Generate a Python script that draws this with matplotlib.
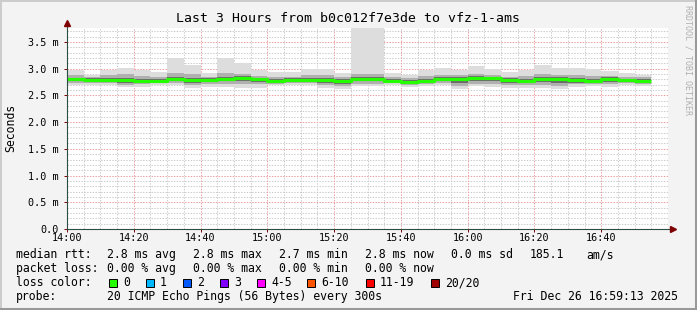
import numpy as np
import matplotlib
matplotlib.use("Agg")
import matplotlib.pyplot as plt
from matplotlib.lines import Line2D
from matplotlib.patches import Rectangle

# 5 minute steps starting 14:00 (minutes after 14:00)
step_min = [0, 5, 10, 15, 20, 25, 30, 35, 40, 45, 50, 55,
            60, 65, 70, 75, 80, 85, 90, 95, 100, 105, 110, 115,
            120, 125, 130, 135, 140, 145, 150, 155, 160, 165, 170]

# values in ms
median = [2.80, 2.79, 2.79, 2.79, 2.77, 2.77, 2.81, 2.79, 2.79, 2.81, 2.83, 2.80,
          2.77, 2.79, 2.79, 2.79, 2.77, 2.80, 2.81, 2.77, 2.75, 2.77, 2.81, 2.80,
          2.82, 2.82, 2.79, 2.77, 2.81, 2.81, 2.79, 2.77, 2.80, 2.78, 2.77]
ping_max = [2.97, 2.89, 2.97, 3.01, 2.97, 2.93, 3.19, 3.07, 2.92, 3.19, 3.11, 2.97,
            2.93, 2.93, 3.00, 3.00, 2.91, 3.80, 3.80, 2.91, 2.88, 2.97, 3.01, 2.97,
            3.05, 3.00, 2.93, 2.97, 3.06, 3.01, 3.01, 3.00, 2.96, 2.91, 2.89]
ping_min = [2.70, 2.70, 2.70, 2.66, 2.66, 2.70, 2.69, 2.64, 2.66, 2.66, 2.64, 2.64,
            2.69, 2.70, 2.69, 2.64, 2.61, 2.67, 2.67, 2.70, 2.66, 2.67, 2.69, 2.61,
            2.67, 2.66, 2.64, 2.64, 2.64, 2.61, 2.66, 2.67, 2.66, 2.69, 2.67]
mid_hi = [2.88, 2.85, 2.88, 2.90, 2.86, 2.84, 2.92, 2.90, 2.85, 2.92, 2.90, 2.87,
          2.85, 2.85, 2.88, 2.88, 2.84, 2.90, 2.90, 2.84, 2.82, 2.86, 2.89, 2.88,
          2.90, 2.89, 2.85, 2.86, 2.90, 2.89, 2.88, 2.86, 2.87, 2.85, 2.84]
mid_lo = [2.74, 2.73, 2.74, 2.70, 2.71, 2.73, 2.74, 2.70, 2.72, 2.72, 2.71, 2.71,
          2.72, 2.74, 2.73, 2.70, 2.67, 2.72, 2.72, 2.73, 2.70, 2.71, 2.73, 2.68,
          2.72, 2.71, 2.70, 2.70, 2.70, 2.68, 2.71, 2.72, 2.71, 2.73, 2.72]
core_hi = [2.83, 2.82, 2.83, 2.83, 2.80, 2.80, 2.85, 2.83, 2.82, 2.85, 2.86, 2.83,
           2.80, 2.82, 2.83, 2.83, 2.80, 2.84, 2.85, 2.80, 2.78, 2.81, 2.85, 2.84,
           2.86, 2.85, 2.82, 2.81, 2.85, 2.84, 2.83, 2.81, 2.84, 2.81, 2.80]
core_lo = [2.76, 2.75, 2.76, 2.74, 2.74, 2.75, 2.77, 2.74, 2.75, 2.76, 2.77, 2.75,
           2.74, 2.76, 2.75, 2.74, 2.72, 2.76, 2.76, 2.74, 2.72, 2.73, 2.76, 2.73,
           2.77, 2.76, 2.74, 2.73, 2.75, 2.74, 2.74, 2.74, 2.75, 2.75, 2.74]

x_ticks = [0, 20, 40, 60, 80, 100, 120, 140, 160]
x_labels = ["14:00", "14:20", "14:40", "15:00", "15:20", "15:40", "16:00", "16:20", "16:40"]
y_ticks = [0.0, 0.5, 1.0, 1.5, 2.0, 2.5, 3.0, 3.5]
y_labels = ["0.0", "0.5 m", "1.0 m", "1.5 m", "2.0 m", "2.5 m", "3.0 m", "3.5 m"]

loss_names = ["0", "1", "2", "3", "4-5", "6-10", "11-19", "20/20"]
loss_colors = ["#26ff00", "#00b8ff", "#0059ff", "#7e00ff", "#ff00ff", "#ff5500", "#ff0000", "#a10000"]

MONO = "DejaVu Sans Mono"
W, H = 697, 310

fig = plt.figure(figsize=(W / 100, H / 100), dpi=100)
fig.patch.set_facecolor("#f3f3f3")


def fx(x):
    return x / W


def fy(y):
    return 1 - y / H


# frame shading
fig.add_artist(Line2D([0, 1], [fy(0.5), fy(0.5)], color="#cbcbcb", lw=1.4))
fig.add_artist(Line2D([fx(0.5), fx(0.5)], [0, 1], color="#cbcbcb", lw=1.4))
fig.add_artist(Line2D([0, 1], [fy(309), fy(309)], color="#999999", lw=2.2))
fig.add_artist(Line2D([fx(696), fx(696)], [0, 1], color="#999999", lw=2.2))

ax = fig.add_axes([fx(67), fy(229), 601 / W, 201 / H])
ax.set_facecolor("white")
ax.set_xlim(0, 180)
ax.set_ylim(0, 3.76)
for s in ax.spines.values():
    s.set_visible(False)

# grid
for m in range(0, 181, 5):
    if m % 20:
        ax.axvline(m, color="#cccccc", lw=0.72, ls=(0, (1.4, 1.4)), zorder=0)
for v in np.arange(0.1, 3.76, 0.1):
    if round(v * 10) % 5:
        ax.axhline(v, color="#cccccc", lw=0.72, ls=(0, (1.4, 1.4)), zorder=0)
for m in x_ticks[1:] + [180]:
    ax.axvline(m, color="#eea0a0", lw=0.72, ls=(0, (1.4, 1.4)), zorder=0)
for v in y_ticks[1:]:
    ax.axhline(v, color="#eea0a0", lw=0.72, ls=(0, (1.4, 1.4)), zorder=0)

# smoke
lo = np.array(ping_min)
hi = np.array(ping_max)
ax.bar(step_min, hi - lo, bottom=lo, width=5, align="edge", color="#dddddd", lw=0, zorder=1)
ax.bar(step_min, np.array(mid_hi) - np.array(mid_lo), bottom=mid_lo, width=5, align="edge",
       color="#b0b0b0", lw=0, zorder=2)
ax.bar(step_min, np.array(core_hi) - np.array(core_lo), bottom=core_lo, width=5, align="edge",
       color="#6a6a6a", lw=0, zorder=3)

# median line
sx = list(step_min) + [step_min[-1] + 5]
sy = list(median) + [median[-1]]
ax.step(sx, sy, where="post", color=loss_colors[0], lw=2.3, zorder=4, solid_capstyle="butt")

# axes lines & arrows
ax.plot([0, 0], [0, 3.76 + 6 / 53.5], color="#2c4d43", lw=0.8, clip_on=False, zorder=5)
ax.plot([0, 180 + 5 * 0.3], [0, 0], color="#2c4d43", lw=0.8, clip_on=False, zorder=5)
ax.plot([0], [3.76 + 5 / 53.5], marker="^", ms=5, color="#7f0000", clip_on=False, zorder=6)
ax.plot([181.5], [0], marker=">", ms=5, color="#7f0000", clip_on=False, zorder=6)

ax.set_xticks(x_ticks)
ax.set_xticklabels(x_labels, fontfamily=MONO, fontsize=7.3)
ax.set_yticks(y_ticks)
ax.set_yticklabels(y_labels, fontfamily=MONO, fontsize=7.3)
ax.tick_params(axis="both", length=2, width=0.7, color="#7f0000", direction="out")
ax.tick_params(axis="x", pad=1.2)
ax.tick_params(axis="y", pad=4)

# title and labels
fig.text(fx(348), fy(19), "Last 3 Hours from b0c012f7e3de to vfz-1-ams",
         fontfamily=MONO, fontsize=9.5, ha="center", va="center")
fig.text(fx(11), fy(128), "Seconds", fontfamily=MONO, fontsize=8.3,
         rotation=90, ha="center", va="center")
fig.text(fx(688), fy(60), "RRDTOOL / TOBI OETIKER", fontfamily=MONO, fontsize=6,
         rotation=270, ha="center", va="center", color="#b0b0b0")

# legend
fs = 8.3


def t(x, y, s):
    fig.text(fx(x), fy(y), s, fontfamily=MONO, fontsize=fs, ha="left", va="center")


y1, y2, y3, y4 = 254.5, 268.5, 282.5, 296.5
t(16, y1, "median rtt:")
t(107, y1, "2.8 ms avg")
t(193, y1, "2.8 ms max")
t(279, y1, "2.7 ms min")
t(365, y1, "2.8 ms now")
t(451, y1, "0.0 ms sd")
t(530, y1, "185.1")
t(586, y1, "am/s")

t(16, y2, "packet loss:")
t(107, y2, "0.00 % avg")
t(193, y2, "0.00 % max")
t(279, y2, "0.00 % min")
t(365, y2, "0.00 % now")

t(16, y3, "loss color:")
sw_x = [108.5, 145.5, 182.5, 219.5, 256.5, 306.5, 365.5, 430.5]
for sx0, name, col in zip(sw_x, loss_names, loss_colors):
    fig.add_artist(Rectangle((fx(sx0), fy(y3 + 4)), 8 / W, 8 / H, facecolor=col,
                             edgecolor="black", lw=0.7))
    t(sx0 + 14.5, y3, name)

t(16, y4, "probe:")
t(107, y4, "20 ICMP Echo Pings (56 Bytes) every 300s")
t(513, y4, "Fri Dec 26 16:59:13 2025")

fig.savefig("out.png", dpi=100, facecolor=fig.get_facecolor())
